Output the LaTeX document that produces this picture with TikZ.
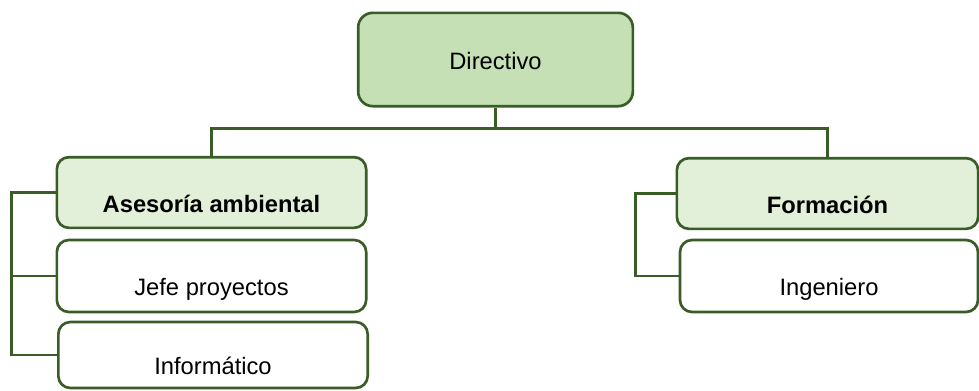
\documentclass[tikz,border=0pt]{standalone}
\usepackage{fontspec}
\setmainfont{Liberation Sans}
\definecolor{orgline}{HTML}{3A5C27}
\definecolor{orgtop}{HTML}{C5E0B4}
\definecolor{orgsub}{HTML}{E2F0D9}
\begin{document}
\begin{tikzpicture}[x=0.75pt, y=-0.75pt,
  every node/.style={font=\fontsize{17.8pt}{21pt}\selectfont},
  unit/.style={draw=orgline, line width=2pt, rounded corners=9pt, text depth=0pt, text height=29.5pt},
  head/.style={unit, fill=orgsub, font=\fontsize{17.8pt}{21pt}\selectfont\bfseries},
  link/.style={draw=orgline, line width=2pt}]
  \useasboundingbox (0,0) rectangle (979,390);
  % top box
  \node[unit, fill=orgtop, rounded corners=11pt, text height=15.7pt,
        minimum width=206pt, minimum height=70pt] (dir) at (495.5,59.5) {Directivo};
  % left branch
  \node[head, minimum width=232pt, minimum height=53pt] (ase) at (211.5,192.5) {Asesoría ambiental};
  \node[unit, minimum width=232pt, minimum height=54pt] (jef) at (211.5,276) {Jefe proyectos};
  \node[unit, minimum width=232pt, minimum height=49.5pt] (inf) at (213,355) {Informático};
  % right branch
  \node[head, minimum width=226pt, minimum height=53pt] (for) at (827.5,193.5) {Formación};
  \node[unit, minimum width=223.5pt, minimum height=54pt] (ing) at (829,276) {Ingeniero};
  % connectors
  \draw[link] (dir.south) -- ++(0,21) coordinate (bus);
  \draw[link] (ase.north) |- (bus) -| (for.north);
  \draw[link] (ase.west) -- ++(-44,0) |- (inf.west);
  \draw[link] (jef.west) -- ++(-44,0);
  \draw[link] (for.west) -- ++(-40,0) |- (ing.west);
\end{tikzpicture}
\end{document}
